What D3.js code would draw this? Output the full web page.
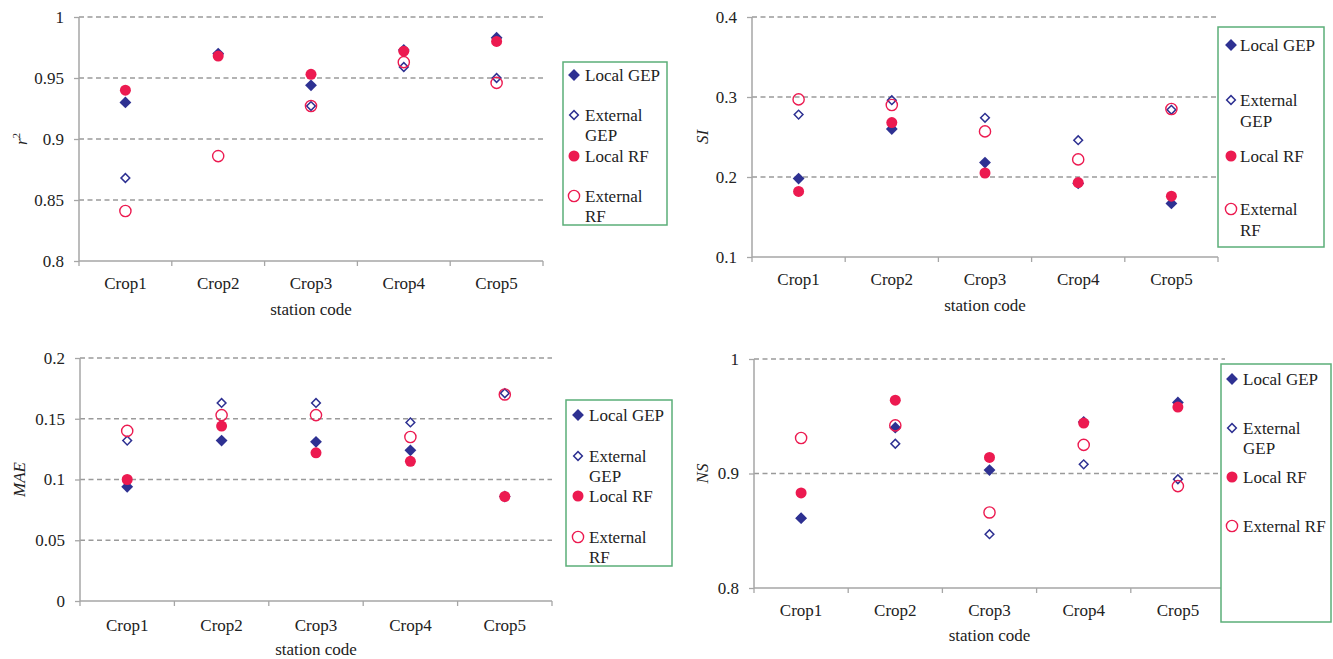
<!DOCTYPE html>
<html>
<head>
<meta charset="utf-8">
<script src="https://cdn.jsdelivr.net/npm/d3@7"></script>
<style>
  html, body { margin: 0; padding: 0; background: #fff; }
</style>
</head>
<body>
<svg id="chart" width="1333" height="659" font-family="Liberation Serif" font-size="17"></svg>
<script>
// Stations on the x axis
const categories = ["Crop1", "Crop2", "Crop3", "Crop4", "Crop5"];
const seriesNames = ["Local GEP", "External GEP", "Local RF", "External RF"];

// r² per station
const r2LocalGEP    = [0.930, 0.970, 0.944, 0.973, 0.983];
const r2ExternalGEP = [0.868, 0.969, 0.927, 0.959, 0.950];
const r2LocalRF     = [0.940, 0.968, 0.953, 0.972, 0.980];
const r2ExternalRF  = [0.841, 0.886, 0.927, 0.963, 0.946];

// SI per station
const siLocalGEP    = [0.198, 0.260, 0.218, 0.192, 0.167];
const siExternalGEP = [0.278, 0.296, 0.274, 0.246, 0.284];
const siLocalRF     = [0.182, 0.268, 0.205, 0.193, 0.176];
const siExternalRF  = [0.297, 0.290, 0.257, 0.222, 0.285];

// MAE per station
const maeLocalGEP    = [0.094, 0.132, 0.131, 0.124, 0.086];
const maeExternalGEP = [0.132, 0.163, 0.163, 0.147, 0.171];
const maeLocalRF     = [0.100, 0.144, 0.122, 0.115, 0.086];
const maeExternalRF  = [0.140, 0.153, 0.153, 0.135, 0.170];

// NS per station
const nsLocalGEP    = [0.861, 0.940, 0.903, 0.945, 0.962];
const nsExternalGEP = [0.861, 0.926, 0.847, 0.908, 0.895];
const nsLocalRF     = [0.883, 0.964, 0.914, 0.944, 0.958];
const nsExternalRF  = [0.931, 0.942, 0.866, 0.925, 0.889];

// Axis ticks
const r2Ticks  = [0.8, 0.85, 0.9, 0.95, 1];
const r2TickLabels = ["0.8", "0.85", "0.9", "0.95", "1"];
const siTicks  = [0.1, 0.2, 0.3, 0.4];
const siTickLabels = ["0.1", "0.2", "0.3", "0.4"];
const maeTicks = [0, 0.05, 0.1, 0.15, 0.2];
const maeTickLabels = ["0", "0.05", "0.1", "0.15", "0.2"];
const nsTicks  = [0.8, 0.9, 1];
const nsTickLabels = ["0.8", "0.9", "1"];

const NAVY = "#2E3192";
const RED = "#EC1A50";
const GRID = "#9a9a9a";
const AXIS = "#a6a6a6";
const FRAME = "#5BAE78";
const FONT = 17;
const FAMILY = "Liberation Serif";

const svg = d3.select("#chart");

function drawMarker(g, kind, x, y) {
  if (kind === 0) {
    g.append("path")
      .attr("d", d3.symbol().type(d3.symbolSquare).size(70)())
      .attr("transform", `translate(${x},${y}) rotate(45)`)
      .attr("fill", NAVY);
  } else if (kind === 1) {
    g.append("path")
      .attr("d", d3.symbol().type(d3.symbolSquare).size(38)())
      .attr("transform", `translate(${x},${y}) rotate(45)`)
      .attr("fill", "none").attr("stroke", NAVY).attr("stroke-width", 1.5);
  } else if (kind === 2) {
    g.append("circle").attr("cx", x).attr("cy", y).attr("r", 5.5).attr("fill", RED);
  } else {
    g.append("circle").attr("cx", x).attr("cy", y).attr("r", 5.6)
      .attr("fill", "none").attr("stroke", RED).attr("stroke-width", 1.4);
  }
}

function styleText(sel) {
  return sel.attr("font-family", FAMILY).attr("font-size", FONT + "px").attr("fill", "#222");
}

function drawPanel(cfg) {
  const g = svg.append("g");
  const x = d3.scaleBand().domain(categories).range([cfg.left, cfg.right]);
  const y = d3.scaleLinear().domain(cfg.domain).range([cfg.bottom, cfg.top]);

  // dashed gridlines
  g.append("g").selectAll("line")
    .data(cfg.ticks.filter(t => t !== cfg.domain[0]))
    .join("line")
    .attr("x1", cfg.left).attr("x2", cfg.right)
    .attr("y1", d => y(d)).attr("y2", d => y(d))
    .attr("stroke", GRID).attr("stroke-width", 1.3)
    .attr("stroke-dasharray", "5,3.5");

  // y axis
  const yAxis = d3.axisLeft(y).tickValues(cfg.ticks)
    .tickFormat((d, i) => cfg.tickLabels[i]).tickSize(5).tickPadding(10);
  const ya = g.append("g").attr("transform", `translate(${cfg.left},0)`).call(yAxis);
  ya.attr("font-family", FAMILY).attr("font-size", FONT + "px");
  ya.select(".domain").attr("stroke", AXIS).attr("stroke-width", 1.5)
    .attr("d", `M0,${cfg.bottom}V${cfg.top}`);
  ya.selectAll(".tick line").attr("stroke", AXIS).attr("stroke-width", 1.3);
  styleText(ya.selectAll(".tick text"));

  // x axis
  const xAxis = d3.axisBottom(x).tickSize(0).tickPadding(cfg.labelPad);
  const xa = g.append("g").attr("transform", `translate(0,${cfg.bottom})`).call(xAxis);
  xa.attr("font-family", FAMILY).attr("font-size", FONT + "px");
  xa.select(".domain").attr("stroke", AXIS).attr("stroke-width", 1.5)
    .attr("d", `M${cfg.left},0H${cfg.right}`);
  styleText(xa.selectAll(".tick text"));
  // category boundary ticks
  const bounds = d3.range(categories.length + 1).map(i => cfg.left + i * x.step());
  xa.append("g").selectAll("line").data(bounds).join("line")
    .attr("x1", d => d).attr("x2", d => d).attr("y1", 0).attr("y2", 5)
    .attr("stroke", AXIS).attr("stroke-width", 1.3);

  // x axis title
  styleText(g.append("text")).attr("x", (cfg.left + cfg.right) / 2).attr("y", cfg.titleY)
    .attr("text-anchor", "middle").text("station code");

  // y axis title (italic, rotated)
  const yt = styleText(g.append("text"))
    .attr("transform", `translate(${cfg.yTitleX},${(cfg.top + cfg.bottom) / 2}) rotate(-90)`)
    .attr("text-anchor", "middle").attr("font-style", "italic");
  yt.append("tspan").text(cfg.yTitle);
  if (cfg.yTitleSup) {
    yt.append("tspan").attr("dy", -7).attr("font-size", "11px").attr("font-style", "normal")
      .text(cfg.yTitleSup);
  }

  // markers
  cfg.series.forEach((vals, k) => {
    vals.forEach((v, i) => drawMarker(g, k, x(categories[i]) + x.bandwidth() / 2, y(v)));
  });

  // legend
  const L = cfg.legend;
  g.append("rect").attr("x", L.x).attr("y", L.y).attr("width", L.w).attr("height", L.h)
    .attr("fill", "#fff").attr("stroke", FRAME).attr("stroke-width", 1.5);
  L.items.forEach((it, k) => {
    drawMarker(g, k, L.mx, it.y);
    it.lines.forEach((ln, j) => {
      styleText(g.append("text")).attr("x", L.tx).attr("y", it.y + j * L.lh)
        .attr("dy", "0.35em").text(ln);
    });
  });
}

drawPanel({
  left: 79, right: 543, top: 17, bottom: 261,
  domain: [0.8, 1], ticks: r2Ticks, tickLabels: r2TickLabels,
  labelPad: 16, titleY: 315, yTitle: "r", yTitleSup: "2", yTitleX: 27,
  series: [r2LocalGEP, r2ExternalGEP, r2LocalRF, r2ExternalRF],
  legend: { x: 563, y: 62, w: 104, h: 163, mx: 574, tx: 585, lh: 20,
    items: [{ y: 75, lines: ["Local GEP"] }, { y: 115, lines: ["External", "GEP"] },
            { y: 156, lines: ["Local RF"] }, { y: 196, lines: ["External", "RF"] }] }
});

drawPanel({
  left: 752, right: 1218, top: 17, bottom: 257,
  domain: [0.1, 0.4], ticks: siTicks, tickLabels: siTickLabels,
  labelPad: 16, titleY: 311, yTitle: "SI", yTitleX: 708,
  series: [siLocalGEP, siExternalGEP, siLocalRF, siExternalRF],
  legend: { x: 1218, y: 27, w: 106, h: 220, mx: 1231, tx: 1240, lh: 21,
    items: [{ y: 45, lines: ["Local GEP"] }, { y: 100, lines: ["External", "GEP"] },
            { y: 156, lines: ["Local RF"] }, { y: 209, lines: ["External", "RF"] }] }
});

drawPanel({
  left: 80, right: 552, top: 358, bottom: 601,
  domain: [0, 0.2], ticks: maeTicks, tickLabels: maeTickLabels,
  labelPad: 18, titleY: 655, yTitle: "MAE", yTitleX: 25,
  series: [maeLocalGEP, maeExternalGEP, maeLocalRF, maeExternalRF],
  legend: { x: 566, y: 400, w: 106, h: 166, mx: 578, tx: 589, lh: 20,
    items: [{ y: 415, lines: ["Local GEP"] }, { y: 456, lines: ["External", "GEP"] },
            { y: 496, lines: ["Local RF"] }, { y: 537, lines: ["External", "RF"] }] }
});

drawPanel({
  left: 754, right: 1225, top: 359, bottom: 588,
  domain: [0.8, 1], ticks: nsTicks, tickLabels: nsTickLabels,
  labelPad: 16, titleY: 641, yTitle: "NS", yTitleX: 708,
  series: [nsLocalGEP, nsExternalGEP, nsLocalRF, nsExternalRF],
  legend: { x: 1221, y: 364, w: 110, h: 258, mx: 1232, tx: 1243, lh: 20,
    items: [{ y: 379, lines: ["Local GEP"] }, { y: 428, lines: ["External", "GEP"] },
            { y: 477, lines: ["Local RF"] }, { y: 526, lines: ["External RF"] }] }
});
</script>
</body>
</html>
